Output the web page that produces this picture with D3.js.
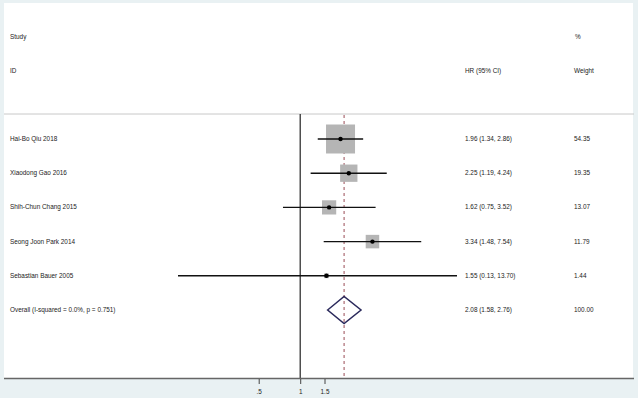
<!DOCTYPE html>
<html lang="en">

<head>
    <script src='https://d3js.org/d3.v7.min.js'></script>
    <style>
        body { margin: 0; background: #e9f1f3; }
        text { font-family: "Liberation Sans", Arial, sans-serif; font-size: 6.4px; fill: #222; }
    </style>
</head>

<body>
    <script>
        // study data
        const studies = ["Hai-Bo Qiu 2018", "Xiaodong Gao 2016", "Shih-Chun Chang 2015",
            "Seong Joon Park 2014", "Sebastian Bauer 2005"];
        const hr = [1.96, 2.25, 1.62, 3.34, 1.55];
        const lower = [1.34, 1.19, 0.75, 1.48, 0.13];
        const upper = [2.86, 4.24, 3.52, 7.54, 13.70];
        const weights = [54.35, 19.35, 13.07, 11.79, 1.44];

        // pooled estimate
        const overallLabel = "Overall  (I-squared = 0.0%, p = 0.751)";
        const overall = [2.08, 1.58, 2.76];
        const overallWeight = 100.00;

        const tickValues = [0.5, 1, 1.5];
        const tickLabels = [".5", "1", "1.5"];

        const width = 638,
            height = 398;

        const svg = d3.select("body")
            .append("svg")
            .attr("width", width)
            .attr("height", height);

        // white panel
        svg.append("rect")
            .attr("x", 4).attr("y", 3)
            .attr("width", 629).attr("height", 375)
            .attr("fill", "#fff");

        // log scale for hazard ratios
        const x = d3.scaleLog()
            .domain([0.13, 13.70])
            .range([178, 457]);

        // rows
        const rows = studies.concat([overallLabel]);
        const y = d3.scalePoint()
            .domain(d3.range(rows.length))
            .range([139, 310]);

        // box size by weight
        const boxSize = d3.scaleSqrt()
            .domain([0, d3.max(weights)])
            .range([0, 29]);

        const fmt = d3.format(".2f");

        // header
        svg.append("text").attr("x", 10).attr("y", 39).text("Study");
        svg.append("text").attr("x", 10).attr("y", 73).text("ID");
        svg.append("text").attr("x", 465).attr("y", 73).text("HR (95% CI)");
        svg.append("text").attr("x", 575).attr("y", 39).text("%");
        svg.append("text").attr("x", 574).attr("y", 73).text("Weight");

        // separator
        svg.append("line")
            .attr("x1", 4).attr("x2", 634)
            .attr("y1", 114).attr("y2", 114)
            .attr("stroke", "#c8c8c8").attr("stroke-width", 1);

        // null line at 1
        svg.append("line")
            .attr("x1", x(1)).attr("x2", x(1))
            .attr("y1", 114).attr("y2", 378)
            .attr("stroke", "#333").attr("stroke-width", 1.3);

        // overall dashed line
        svg.append("line")
            .attr("x1", x(overall[0])).attr("x2", x(overall[0]))
            .attr("y1", 115).attr("y2", 378)
            .attr("stroke", "#9a4a55").attr("stroke-width", 1)
            .attr("stroke-dasharray", "3,3");

        const g = svg.selectAll(".study")
            .data(studies)
            .enter()
            .append("g")
            .attr("class", "study");

        // weight boxes
        g.append("rect")
            .attr("x", (d, i) => x(hr[i]) - boxSize(weights[i]) / 2)
            .attr("y", (d, i) => y(i) - boxSize(weights[i]) / 2)
            .attr("width", (d, i) => boxSize(weights[i]))
            .attr("height", (d, i) => boxSize(weights[i]))
            .attr("fill", "#b5b5b5");

        // confidence intervals
        g.append("line")
            .attr("x1", (d, i) => x(lower[i]))
            .attr("x2", (d, i) => x(upper[i]))
            .attr("y1", (d, i) => y(i))
            .attr("y2", (d, i) => y(i))
            .attr("stroke", "#111").attr("stroke-width", 1.4);

        g.append("circle")
            .attr("cx", (d, i) => x(hr[i]))
            .attr("cy", (d, i) => y(i))
            .attr("r", 2.2)
            .attr("fill", "#000");

        // labels
        g.append("text").attr("x", 10).attr("y", (d, i) => y(i) + 2).text(d => d);
        g.append("text").attr("x", 465).attr("y", (d, i) => y(i) + 2)
            .text((d, i) => fmt(hr[i]) + " (" + fmt(lower[i]) + ", " + fmt(upper[i]) + ")");
        g.append("text").attr("x", 574).attr("y", (d, i) => y(i) + 2)
            .text((d, i) => fmt(weights[i]));

        // overall diamond
        const oy = y(rows.length - 1);
        svg.append("path")
            .attr("d", "M" + x(overall[1]) + "," + oy +
                "L" + x(overall[0]) + "," + (oy - 13.5) +
                "L" + x(overall[2]) + "," + oy +
                "L" + x(overall[0]) + "," + (oy + 13.5) + "Z")
            .attr("fill", "none")
            .attr("stroke", "#2b2a5c").attr("stroke-width", 1.5);

        svg.append("text").attr("x", 10).attr("y", oy + 2).text(overallLabel);
        svg.append("text").attr("x", 465).attr("y", oy + 2)
            .text(fmt(overall[0]) + " (" + fmt(overall[1]) + ", " + fmt(overall[2]) + ")");
        svg.append("text").attr("x", 574).attr("y", oy + 2).text(fmt(overallWeight));

        // axis
        svg.append("line")
            .attr("x1", 4).attr("x2", 634)
            .attr("y1", 378.5).attr("y2", 378.5)
            .attr("stroke", "#666").attr("stroke-width", 1.5);

        const axis = d3.axisBottom(x)
            .tickValues(tickValues)
            .tickFormat((d, i) => tickLabels[i])
            .tickSize(5)
            .tickPadding(5);

        const ax = svg.append("g")
            .attr("transform", "translate(0,379)")
            .call(axis);
        ax.select(".domain").remove();
        ax.selectAll(".tick line").attr("stroke", "#444");
        ax.selectAll(".tick text")
            .style("font-family", "Liberation Sans, Arial, sans-serif")
            .style("font-size", "6.4px")
            .attr("fill", "#222");
    </script>
</body>

</html>
